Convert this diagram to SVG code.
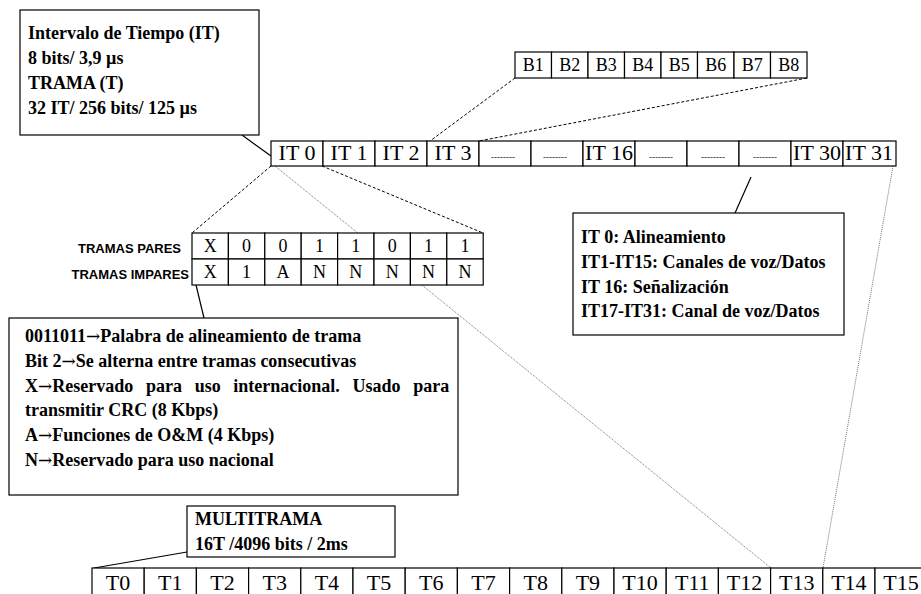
<svg xmlns="http://www.w3.org/2000/svg" width="921" height="594" viewBox="0 0 921 594">
<style>
.box{fill:#fff;stroke:#000;stroke-width:1.2}
.cell{fill:#fff;stroke:#000;stroke-width:1.2}
.bt{font-family:"Liberation Serif","Times New Roman",serif;font-weight:bold;font-size:18px;fill:#000}
.ar{font-family:"DejaVu Serif",serif;font-weight:normal;font-size:17px}
.ct{font-family:"Liberation Serif","Times New Roman",serif;font-size:18px;fill:#000;text-anchor:middle}
.it{font-family:"Liberation Serif","Times New Roman",serif;font-size:22px;fill:#000;text-anchor:middle}
.dash{font-family:"Liberation Serif","Times New Roman",serif;font-size:9px;fill:#000;text-anchor:middle}
.lab{font-family:"Liberation Sans",Arial,sans-serif;font-weight:bold;font-size:13px;fill:#000;text-anchor:end}
.solid{stroke:#000;stroke-width:1.2;fill:none}
.dashed{stroke:#000;stroke-width:1;stroke-dasharray:3 2;fill:none}
.dotted{stroke:#777;stroke-width:1;stroke-dasharray:1 1;fill:none}
</style>
<rect width="921" height="594" fill="#fff"/>
<g id="connectors">
<line class="dashed" x1="515" y1="78" x2="430" y2="141"/>
<line class="dashed" x1="807" y1="78" x2="479" y2="141"/>
<line class="dashed" x1="271" y1="166" x2="192" y2="233"/>
<line class="dashed" x1="322" y1="166" x2="483" y2="233"/>
<line class="dotted" x1="275" y1="166" x2="771" y2="568"/>
<line class="dotted" x1="893" y1="166" x2="823" y2="568"/>
<line class="solid" x1="242" y1="135" x2="271" y2="156"/>
<line class="solid" x1="751" y1="177" x2="735" y2="213"/>
<line class="solid" x1="196" y1="285" x2="204" y2="318"/>
<line class="solid" x1="187" y1="552" x2="94" y2="568"/>
</g>
<g id="info-it">
<rect class="box" x="20" y="10" width="239" height="125"/>
<text class="bt" x="28" y="39">Intervalo de Tiempo (IT)</text>
<text class="bt" x="28" y="64">8 bits/ 3,9 µs</text>
<text class="bt" x="28" y="89">TRAMA (T)</text>
<text class="bt" x="28" y="114">32 IT/ 256 bits/ 125 µs</text>
</g>
<g id="bits">
<rect class="cell" x="515" y="52" width="36.5" height="26"/>
<rect class="cell" x="551.5" y="52" width="36.5" height="26"/>
<rect class="cell" x="588" y="52" width="36.5" height="26"/>
<rect class="cell" x="624.5" y="52" width="36.5" height="26"/>
<rect class="cell" x="661" y="52" width="36.5" height="26"/>
<rect class="cell" x="697.5" y="52" width="36.5" height="26"/>
<rect class="cell" x="734" y="52" width="36.5" height="26"/>
<rect class="cell" x="770.5" y="52" width="36.5" height="26"/>
<text class="ct" x="533.3" y="71">B1</text>
<text class="ct" x="569.8" y="71">B2</text>
<text class="ct" x="606.3" y="71">B3</text>
<text class="ct" x="642.8" y="71">B4</text>
<text class="ct" x="679.3" y="71">B5</text>
<text class="ct" x="715.8" y="71">B6</text>
<text class="ct" x="752.3" y="71">B7</text>
<text class="ct" x="788.8" y="71">B8</text>
</g>
<g id="trama">
<rect class="cell" x="271" y="141" width="52" height="25"/>
<rect class="cell" x="323" y="141" width="52" height="25"/>
<rect class="cell" x="375" y="141" width="52" height="25"/>
<rect class="cell" x="427" y="141" width="52" height="25"/>
<rect class="cell" x="479" y="141" width="52" height="25"/>
<rect class="cell" x="531" y="141" width="52" height="25"/>
<rect class="cell" x="583" y="141" width="52" height="25"/>
<rect class="cell" x="635" y="141" width="52" height="25"/>
<rect class="cell" x="687" y="141" width="52" height="25"/>
<rect class="cell" x="739" y="141" width="52" height="25"/>
<rect class="cell" x="791" y="141" width="52" height="25"/>
<rect class="cell" x="843" y="141" width="53" height="25"/>
<text class="it" x="297" y="160">IT 0</text>
<text class="it" x="349" y="160">IT 1</text>
<text class="it" x="401" y="160">IT 2</text>
<text class="it" x="453" y="160">IT 3</text>
<text class="dash" x="503" y="160">--------</text>
<text class="dash" x="555" y="160">--------</text>
<text class="it" x="609" y="160">IT 16</text>
<text class="dash" x="661" y="160">--------</text>
<text class="dash" x="713" y="160">--------</text>
<text class="dash" x="765" y="160">--------</text>
<text class="it" x="817" y="160">IT 30</text>
<text class="it" x="869" y="160">IT 31</text>
</g>
<g id="it0-table">
<text class="lab" x="181" y="253">TRAMAS PARES</text>
<text class="lab" x="189" y="279">TRAMAS IMPARES</text>
<rect class="cell" x="192" y="233" width="36.4" height="26"/>
<rect class="cell" x="228.4" y="233" width="36.4" height="26"/>
<rect class="cell" x="264.8" y="233" width="36.4" height="26"/>
<rect class="cell" x="301.2" y="233" width="36.4" height="26"/>
<rect class="cell" x="337.6" y="233" width="36.4" height="26"/>
<rect class="cell" x="374" y="233" width="36.4" height="26"/>
<rect class="cell" x="410.4" y="233" width="36.4" height="26"/>
<rect class="cell" x="446.8" y="233" width="36.4" height="26"/>
<rect class="cell" x="192" y="259" width="36.4" height="26"/>
<rect class="cell" x="228.4" y="259" width="36.4" height="26"/>
<rect class="cell" x="264.8" y="259" width="36.4" height="26"/>
<rect class="cell" x="301.2" y="259" width="36.4" height="26"/>
<rect class="cell" x="337.6" y="259" width="36.4" height="26"/>
<rect class="cell" x="374" y="259" width="36.4" height="26"/>
<rect class="cell" x="410.4" y="259" width="36.4" height="26"/>
<rect class="cell" x="446.8" y="259" width="36.4" height="26"/>
<text class="ct" x="210.2" y="252">X</text>
<text class="ct" x="246.6" y="252">0</text>
<text class="ct" x="283" y="252">0</text>
<text class="ct" x="319.4" y="252">1</text>
<text class="ct" x="355.8" y="252">1</text>
<text class="ct" x="392.2" y="252">0</text>
<text class="ct" x="428.6" y="252">1</text>
<text class="ct" x="465" y="252">1</text>
<text class="ct" x="210.2" y="278">X</text>
<text class="ct" x="246.6" y="278">1</text>
<text class="ct" x="283" y="278">A</text>
<text class="ct" x="319.4" y="278">N</text>
<text class="ct" x="355.8" y="278">N</text>
<text class="ct" x="392.2" y="278">N</text>
<text class="ct" x="428.6" y="278">N</text>
<text class="ct" x="465" y="278">N</text>
</g>
<g id="info-channels">
<rect class="box" x="573" y="213" width="271" height="122"/>
<text class="bt" x="581" y="243">IT 0: Alineamiento</text>
<text class="bt" x="581" y="268">IT1-IT15: Canales de voz/Datos</text>
<text class="bt" x="581" y="293">IT 16: Señalización</text>
<text class="bt" x="581" y="317">IT17-IT31: Canal de voz/Datos</text>
</g>
<g id="info-bits">
<rect class="box" x="9" y="318" width="449" height="177"/>
<text class="bt" x="25" y="342">0011011<tspan class="ar">→</tspan>Palabra de alineamiento de trama</text>
<text class="bt" x="25" y="367">Bit 2<tspan class="ar">→</tspan>Se alterna entre tramas consecutivas</text>
<text class="bt" x="25" y="392" word-spacing="8.2">X<tspan class="ar">→</tspan>Reservado para uso internacional. Usado para</text>
<text class="bt" x="25" y="416">transmitir CRC (8 Kbps)</text>
<text class="bt" x="25" y="441">A<tspan class="ar">→</tspan>Funciones de O&amp;M (4 Kbps)</text>
<text class="bt" x="25" y="466">N<tspan class="ar">→</tspan>Reservado para uso nacional</text>
</g>
<g id="info-multitrama">
<rect class="box" x="187" y="506" width="208" height="51"/>
<text class="bt" x="195" y="525">MULTITRAMA</text>
<text class="bt" x="195" y="550">16T /4096 bits / 2ms</text>
</g>
<g id="multitrama">
<rect class="cell" x="92" y="568" width="52.2" height="30"/>
<rect class="cell" x="144.2" y="568" width="52.2" height="30"/>
<rect class="cell" x="196.4" y="568" width="52.2" height="30"/>
<rect class="cell" x="248.6" y="568" width="52.2" height="30"/>
<rect class="cell" x="300.8" y="568" width="52.2" height="30"/>
<rect class="cell" x="353" y="568" width="52.2" height="30"/>
<rect class="cell" x="405.2" y="568" width="52.2" height="30"/>
<rect class="cell" x="457.4" y="568" width="52.2" height="30"/>
<rect class="cell" x="509.6" y="568" width="52.2" height="30"/>
<rect class="cell" x="561.8" y="568" width="52.2" height="30"/>
<rect class="cell" x="614" y="568" width="52.2" height="30"/>
<rect class="cell" x="666.2" y="568" width="52.2" height="30"/>
<rect class="cell" x="718.4" y="568" width="52.2" height="30"/>
<rect class="cell" x="770.6" y="568" width="52.2" height="30"/>
<rect class="cell" x="822.8" y="568" width="52.2" height="30"/>
<rect class="cell" x="875" y="568" width="52.2" height="30"/>
<text class="it" x="118.1" y="590">T0</text>
<text class="it" x="170.3" y="590">T1</text>
<text class="it" x="222.5" y="590">T2</text>
<text class="it" x="274.7" y="590">T3</text>
<text class="it" x="326.9" y="590">T4</text>
<text class="it" x="379.1" y="590">T5</text>
<text class="it" x="431.3" y="590">T6</text>
<text class="it" x="483.5" y="590">T7</text>
<text class="it" x="535.7" y="590">T8</text>
<text class="it" x="587.9" y="590">T9</text>
<text class="it" x="640.1" y="590">T10</text>
<text class="it" x="692.3" y="590">T11</text>
<text class="it" x="744.5" y="590">T12</text>
<text class="it" x="796.7" y="590">T13</text>
<text class="it" x="848.9" y="590">T14</text>
<text class="it" x="901.1" y="590">T15</text>
</g>
</svg>
